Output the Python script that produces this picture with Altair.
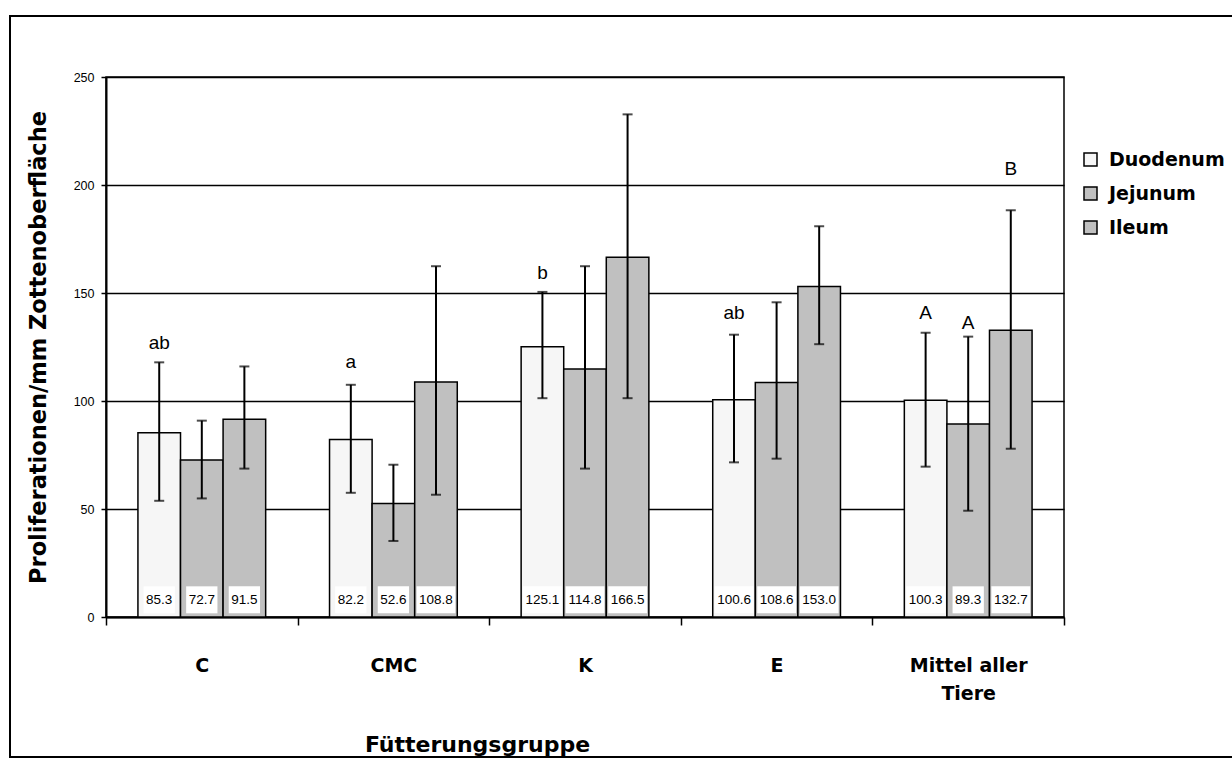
import altair as alt
import pandas as pd

groups = ["C", "CMC", "K", "E", "Mittel aller Tiere"]
segments = ["Duodenum", "Jejunum", "Ileum"]
colors = ["#f6f6f6", "#c0c0c0", "#c0c0c0"]

mean_duodenum = [85.3, 82.2, 125.1, 100.6, 100.3]
mean_jejunum = [72.7, 52.6, 114.8, 108.6, 89.3]
mean_ileum = [91.5, 108.8, 166.5, 153.0, 132.7]

upper_duodenum = [117.9, 107.5, 150.5, 130.7, 131.6]
upper_jejunum = [90.9, 70.5, 162.4, 145.7, 129.8]
upper_ileum = [116.0, 162.4, 232.7, 180.9, 188.3]

lower_duodenum = [53.8, 57.5, 101.3, 71.6, 69.6]
lower_jejunum = [54.9, 35.2, 68.7, 73.3, 49.2]
lower_ileum = [68.7, 56.6, 101.3, 126.3, 77.9]

letter_groups = ["C", "CMC", "K", "E", "Mittel aller Tiere", "Mittel aller Tiere", "Mittel aller Tiere"]
letter_segments = ["Duodenum", "Duodenum", "Duodenum", "Duodenum", "Duodenum", "Jejunum", "Ileum"]
letter_texts = ["ab", "a", "b", "ab", "A", "A", "B"]
letter_values = [126.9, 117.9, 159.3, 140.7, 140.9, 136.1, 207.4]

rows = []
for seg, means, ups, lows in [
    ("Duodenum", mean_duodenum, upper_duodenum, lower_duodenum),
    ("Jejunum", mean_jejunum, upper_jejunum, lower_jejunum),
    ("Ileum", mean_ileum, upper_ileum, lower_ileum),
]:
    for g, m, u, l in zip(groups, means, ups, lows):
        rows.append({"group": g, "segment": seg, "mean": m, "upper": u, "lower": l,
                     "label": f"{m:.1f}"})
df = pd.DataFrame(rows)

letters_df = pd.DataFrame({"group": letter_groups, "segment": letter_segments,
                           "letter": letter_texts, "ypos": letter_values})

BOLD = "DejaVu Sans"
REG = "Liberation Sans"

x_enc = alt.X("group:N", scale=alt.Scale(domain=groups, paddingInner=0, paddingOuter=0),
              axis=alt.Axis(tickBand="extent", tickSize=8, tickWidth=1.5, domainWidth=2,
                            grid=False, labelAngle=0, labelFont=BOLD, labelFontWeight="bold",
                            labelFontSize=19, labelPadding=31, labelLineHeight=28,
                            labelBaseline="top",
                            labelExpr="datum.label == 'Mittel aller Tiere' ? ['Mittel aller', 'Tiere'] : datum.label",
                            title="Fütterungsgruppe", titleFont=BOLD, titleFontSize=22,
                            titleFontWeight="bold", titleX=371, titleY=127,
                            titleBaseline="middle", titleAlign="center"))
xo_enc = alt.XOffset("segment:N", scale=alt.Scale(domain=segments, paddingOuter=0.75, paddingInner=0))
y_scale = alt.Scale(domain=[0, 250], nice=False)

base = alt.Chart(df)

bars = base.mark_bar(stroke="black", strokeWidth=1.5).encode(
    x=x_enc,
    xOffset=xo_enc,
    y=alt.Y("mean:Q", scale=y_scale,
            axis=alt.Axis(values=[0, 50, 100, 150, 200, 250], grid=True, gridColor="black",
                          gridWidth=1.3, domainWidth=2, tickSize=5, tickWidth=1.5,
                          labelFont=REG, labelFontSize=12.5, labelPadding=7,
                          title="Proliferationen/mm Zottenoberfläche", titleFont=BOLD,
                          titleFontSize=22.5, titleFontWeight="bold", titleX=-68, titleY=270,
                          titleAngle=270, titleAlign="center", titleBaseline="middle")),
    color=alt.Color("segment:N", scale=alt.Scale(domain=segments, range=colors),
                    legend=alt.Legend(title=None, orient="none", legendX=975, legendY=73,
                                      symbolType="square", symbolSize=169,
                                      symbolStrokeColor="black", symbolStrokeWidth=1.5,
                                      symbolOpacity=1, labelFont=BOLD, labelFontSize=19,
                                      labelFontWeight="bold", labelColor="black",
                                      labelOffset=9, rowPadding=14, padding=0)),
)

boxes = base.transform_calculate(
    boxw="7.5 * (length(datum.label) - 1) + 3.8 + 5"
).mark_bar(color="white").encode(
    x=x_enc, xOffset=xo_enc,
    y=alt.datum(14.2, scale=y_scale), y2=alt.datum(1.7),
    size=alt.Size("boxw:Q", scale=None, legend=None),
)

labels = base.mark_text(font=REG, fontSize=13.5, color="black", baseline="middle").encode(
    x=x_enc, xOffset=xo_enc, y=alt.datum(7.9, scale=y_scale), text="label:N"
)

err = base.mark_rule(color="black", strokeWidth=2).encode(
    x=x_enc, xOffset=xo_enc, y=alt.Y("lower:Q", scale=y_scale), y2="upper:Q"
)
cap_hi = base.mark_tick(color="black", size=10, thickness=2).encode(
    x=x_enc, xOffset=xo_enc, y=alt.Y("upper:Q", scale=y_scale)
)
cap_lo = base.mark_tick(color="black", size=10, thickness=2).encode(
    x=x_enc, xOffset=xo_enc, y=alt.Y("lower:Q", scale=y_scale)
)

letters = alt.Chart(letters_df).mark_text(font=REG, fontSize=19, color="black",
                                          baseline="middle").encode(
    x=x_enc, xOffset=xo_enc, y=alt.Y("ypos:Q", scale=y_scale), text="letter:N"
)

frame = alt.Chart(pd.DataFrame({"f": [0]})).mark_rect(
    fillOpacity=0, stroke="black", strokeWidth=2
).encode(x=alt.value(-96), x2=alt.value(1140), y=alt.value(-61), y2=alt.value(680))

chart = alt.layer(bars, boxes, labels, err, cap_hi, cap_lo, letters, frame).properties(
    width=958, height=540,
    autosize=alt.AutoSizeParams(type="none"),
    padding={"left": 106, "top": 77, "right": 168, "bottom": 150},
    background="white",
).configure_view(stroke="black", strokeWidth=1.5).configure_axis(
    domainColor="black", tickColor="black", labelColor="black", titleColor="black"
)

chart.save("out.html", embed_options={"renderer": "svg", "actions": False})
